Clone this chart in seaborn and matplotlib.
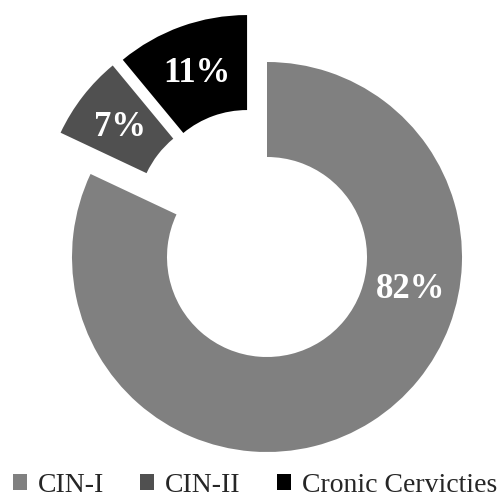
import numpy as np
import matplotlib
matplotlib.use("Agg")
import matplotlib.pyplot as plt
from matplotlib.patches import Patch
import seaborn as sns

categories = ["CIN-I", "CIN-II", "Cronic Cervicties"]
shares = [82, 7, 11]

sns.set_theme(style="white")
plt.rcParams["font.family"] = ["Liberation Serif", "DejaVu Serif"]

colors = ["#808080", "#505050", "#000000"]

W, H = 504, 497
fig = plt.figure(figsize=(W / 100, H / 100), dpi=100)
ax = fig.add_axes([0, 0, 1, 1])

cx, cy, R = 267, 240, 195
ring = 95
# pull-out distance and direction (degrees) for each slice
pulls = [(0, 0), (51, 126), (51, 113)]

wedges, _ = ax.pie(shares, colors=colors, startangle=90, counterclock=False,
                   radius=R, center=(cx, cy),
                   wedgeprops=dict(width=ring, linewidth=0))
ax.set_xlim(0, W)
ax.set_ylim(0, H)
ax.set_aspect("equal")
ax.axis("off")

for w, v, (d, ang) in zip(wedges, shares, pulls):
    a = np.deg2rad(ang)
    ox, oy = cx + d * np.cos(a), cy + d * np.sin(a)
    w.set_center((ox, oy))
    if d > 0:
        mid = np.deg2rad((w.theta1 + w.theta2) / 2)
        r = R - ring / 2
    else:
        mid = np.deg2rad(-12)
        r = 147
    ax.text(ox + r * np.cos(mid), oy + r * np.sin(mid) - 2, f"{v}%",
            ha="center", va="center", color="white", fontsize=25,
            fontweight="bold")

handles = [Patch(facecolor=c, edgecolor="none") for c in colors]
fig.legend(handles, categories, loc="center", bbox_to_anchor=(0.506, 0.024),
           ncol=3, frameon=False, fontsize=20, handlelength=0.5,
           handleheight=0.5, handletextpad=0.4, columnspacing=1.3,
           borderaxespad=0, borderpad=0)

fig.savefig("out.png", dpi=100)
